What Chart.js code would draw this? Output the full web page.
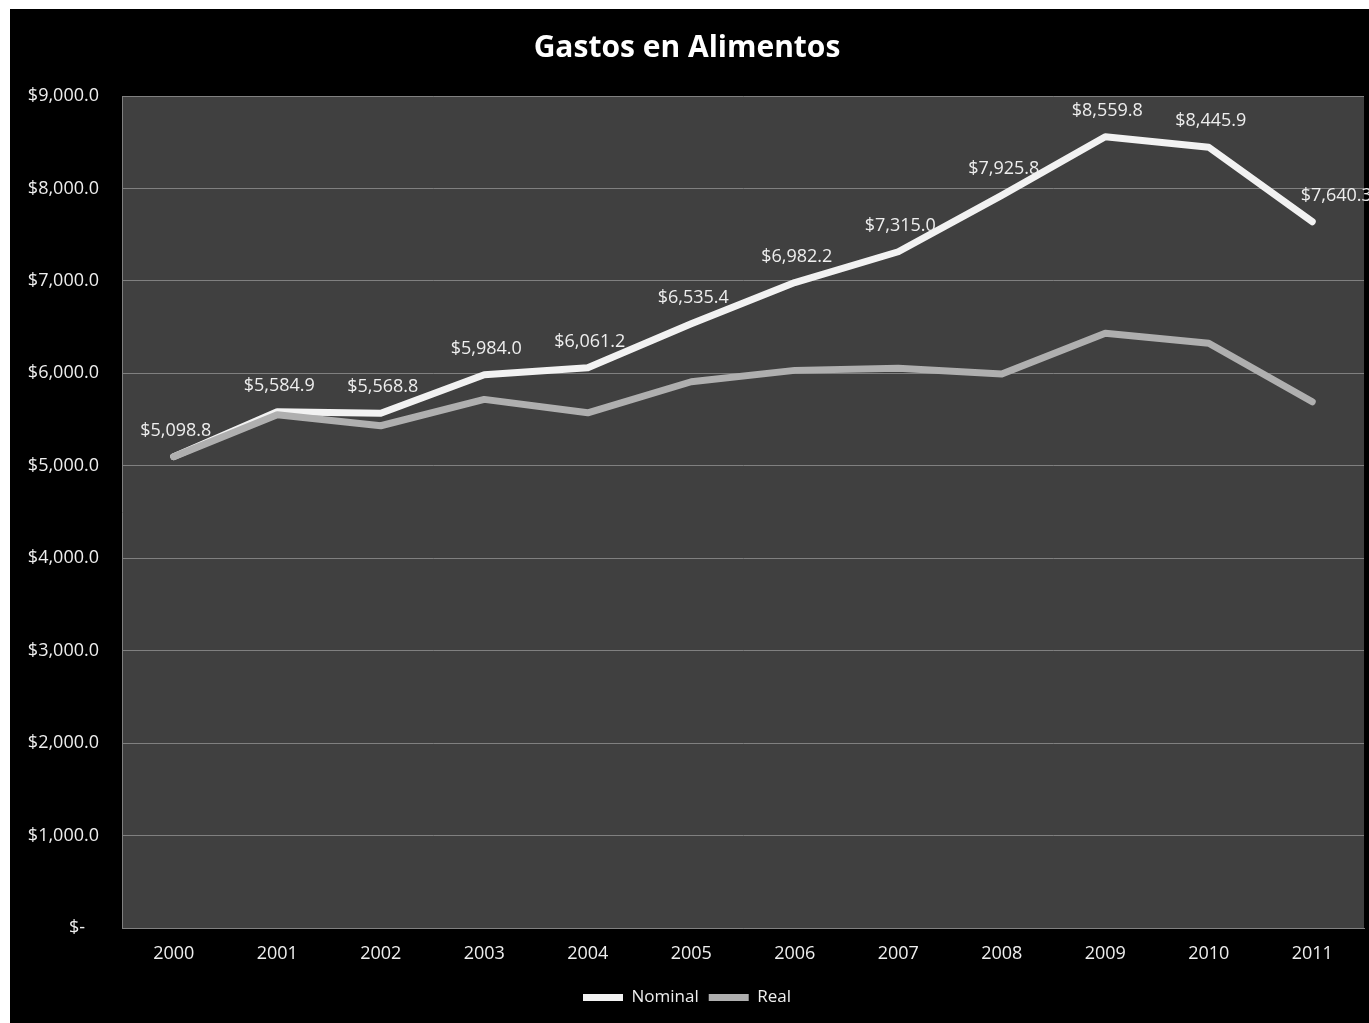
<!DOCTYPE html>
<html>
<head>
<meta charset="utf-8">
<script src="https://cdn.jsdelivr.net/npm/chart.js@4.4.0/dist/chart.umd.min.js"></script>
<style>
  body { margin: 0; background: #ffffff; }
  #wrap { position: absolute; left: 10px; top: 9px; width: 1359px; height: 1014px; background: #000000; }
</style>
</head>
<body>
<div id="wrap"><canvas id="gastos" width="1359" height="1014"></canvas></div>
<script>
const years = ["2000", "2001", "2002", "2003", "2004", "2005", "2006", "2007", "2008", "2009", "2010", "2011"];
const nominal = [5098.8, 5584.9, 5568.8, 5984.0, 6061.2, 6535.4, 6982.2, 7315.0, 7925.8, 8559.8, 8445.9, 7640.3];
const real = [5098.8, 5552, 5433, 5718, 5573, 5909, 6032, 6054, 5992, 6433, 6325, 5692];

const fmt = v => v === 0 ? "$-   " : "$" + v.toLocaleString("en-US", { minimumFractionDigits: 1, maximumFractionDigits: 1 });

// dark plot background
const plotBg = {
  id: "plotBg",
  beforeDraw(chart) {
    const a = chart.chartArea, ctx = chart.ctx;
    ctx.save();
    ctx.fillStyle = "#404040";
    ctx.fillRect(a.left, a.top, a.right - a.left, a.bottom - a.top);
    ctx.restore();
  }
};

// value labels above the Nominal line
const valueLabels = {
  id: "valueLabels",
  afterDatasetsDraw(chart) {
    const ctx = chart.ctx;
    const meta = chart.getDatasetMeta(0);
    ctx.save();
    ctx.font = "18px 'Open Sans'";
    ctx.fillStyle = "#eeeeee";
    ctx.textAlign = "center";
    ctx.textBaseline = "middle";
    meta.data.forEach((pt, i) => {
      let x = pt.x + 2;
      if (i === meta.data.length - 1) x += 22;
      ctx.fillText(fmt(nominal[i]), x, pt.y - 26);
    });
    ctx.restore();
  }
};

new Chart(document.getElementById("gastos"), {
  type: "line",
  data: {
    labels: years,
    datasets: [
      {
        label: "Nominal",
        data: nominal,
        borderColor: "#f2f2f2",
        backgroundColor: "#f2f2f2",
        borderWidth: 7,
        borderCapStyle: "round",
        borderJoinStyle: "round",
        pointRadius: 0,
        tension: 0,
        order: 1
      },
      {
        label: "Real",
        data: real,
        borderColor: "#afafaf",
        backgroundColor: "#afafaf",
        borderWidth: 7,
        borderCapStyle: "round",
        borderJoinStyle: "round",
        pointRadius: 0,
        tension: 0,
        order: 0
      }
    ]
  },
  options: {
    responsive: false,
    animation: false,
    layout: { padding: { left: 0, right: 5, top: 0, bottom: 7 } },
    scales: {
      x: {
        offset: true,
        afterFit(scale) { scale.height = 51; },
        grid: { display: false, drawTicks: false, offset: true },
        border: { display: true, color: "#808080", width: 1 },
        ticks: { color: "#eeeeee", font: { family: "Open Sans", size: 18 }, padding: 15 }
      },
      y: {
        min: 0,
        max: 9000,
        afterFit(scale) { scale.width = 112; },
        grid: { color: "#808080", lineWidth: 1, drawTicks: false },
        border: { display: true, color: "#808080", width: 1 },
        ticks: {
          stepSize: 1000,
          color: "#eeeeee",
          font: { family: "Open Sans", size: 18 },
          padding: 23,
          callback: v => fmt(v)
        }
      }
    },
    plugins: {
      title: {
        display: true,
        text: "Gastos en Alimentos",
        color: "#ffffff",
        font: { family: "Open Sans", size: 30, weight: "bold" },
        padding: { top: 21, bottom: 30 }
      },
      legend: {
        position: "bottom",
        labels: {
          color: "#eeeeee",
          font: { family: "Open Sans", size: 17 },
          usePointStyle: true,
          pointStyle: "line",
          pointStyleWidth: 40,
          padding: 10,
          sort: (a, b) => a.datasetIndex - b.datasetIndex
        }
      },
      tooltip: { enabled: false }
    }
  },
  plugins: [plotBg, valueLabels]
});
</script>
</body>
</html>
